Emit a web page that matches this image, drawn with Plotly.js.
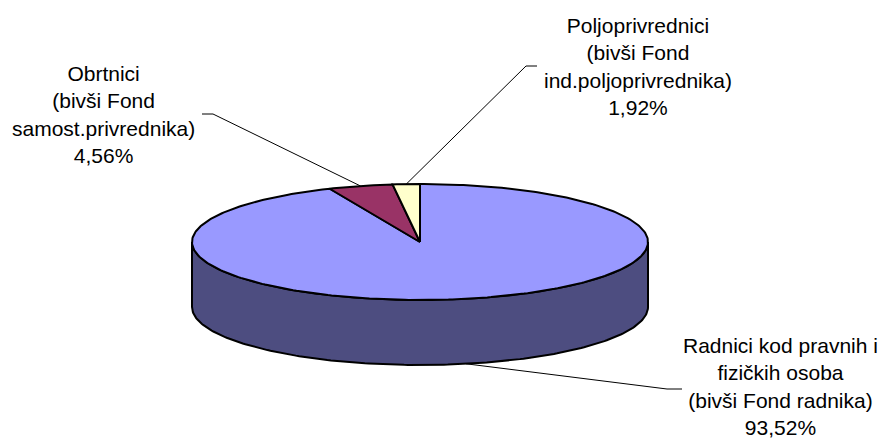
<!DOCTYPE html>
<html>
<head>
<meta charset="utf-8">
<script src="https://cdn.plot.ly/plotly-3.0.1.min.js"></script>
<style>
  html, body { margin: 0; padding: 0; background: #ffffff; }
  #chart { width: 885px; height: 439px; }
</style>
</head>
<body>
<div id="chart"></div>
<script>
// ---- data ----
const categories = [
  'Radnici kod pravnih i fizičkih osoba (bivši Fond radnika)',
  'Obrtnici (bivši Fond samost.privrednika)',
  'Poljoprivrednici (bivši Fond ind.poljoprivrednika)'
];
const labelLines = [
  ['Radnici kod pravnih i', 'fizičkih osoba', '(bivši Fond radnika)'],
  ['Obrtnici', '(bivši Fond', 'samost.privrednika)'],
  ['Poljoprivrednici', '(bivši Fond', 'ind.poljoprivrednika)']
];
const values = [93.52, 4.56, 1.92];
const percentLabels = ['93,52%', '4,56%', '1,92%'];

// ---- styles / layout geometry ----
const topColors  = ['#9999ff', '#993366', '#ffffcc'];
const sideColors = ['#4d4d80', '#4d1a33', '#80806a'];
const geo = { cx: 420, cy: 242, rx: 228, ry: 58, depth: 65 };
// label block centres and leader-line elbows (page pixels)
const labelPos = [
  { x: 780, y: 386, elbow: [[682, 389], [667, 389]], bottom: true },
  { x: 103, y: 114, elbow: [[202, 114], [213, 114]], bottom: false },
  { x: 638, y: 66,  elbow: [[537, 66],  [526, 66]],  bottom: false }
];
const FONT = 'Liberation Sans, Arial, sans-serif';

function pt(deg, dz) {
  const t = deg * Math.PI / 180;
  return [geo.cx + geo.rx * Math.sin(t), geo.cy - geo.ry * Math.cos(t) + dz];
}
function arc(a0, a1, dz) {
  const pts = [];
  const n = Math.max(2, Math.ceil(Math.abs(a1 - a0)));
  for (let i = 0; i <= n; i++) pts.push(pt(a0 + (a1 - a0) * i / n, dz));
  return pts;
}

const total = values.reduce((a, b) => a + b, 0);
let acc = 0;
const slices = values.map(v => {
  const a0 = acc / total * 360;
  acc += v;
  const a1 = acc / total * 360;
  return { a0, a1, mid: (a0 + a1) / 2 };
});

const traces = [];
// side walls (front half: 90..270 deg)
slices.forEach((s, i) => {
  const lo = Math.max(s.a0, 90), hi = Math.min(s.a1, 270);
  if (hi <= lo) return;
  const pts = arc(lo, hi, 0).concat(arc(hi, lo, geo.depth));
  pts.push(pts[0]);
  traces.push({
    type: 'scatter', mode: 'lines', fill: 'toself',
    x: pts.map(p => p[0]), y: pts.map(p => p[1]),
    fillcolor: sideColors[i], line: { color: '#000', width: 2 },
    hoverinfo: 'skip', showlegend: false
  });
});
// top faces
slices.forEach((s, i) => {
  const c = [geo.cx, geo.cy];
  const pts = [c].concat(arc(s.a0, s.a1, 0)).concat([c]);
  traces.push({
    type: 'scatter', mode: 'lines', fill: 'toself',
    x: pts.map(p => p[0]), y: pts.map(p => p[1]),
    fillcolor: topColors[i], line: { color: '#000', width: 2 },
    name: categories[i], hoverinfo: 'skip', showlegend: false
  });
});
// leader lines
slices.forEach((s, i) => {
  const lp = labelPos[i];
  const end = pt(s.mid, lp.bottom ? geo.depth : 0);
  const pts = lp.elbow.concat([end]);
  traces.push({
    type: 'scatter', mode: 'lines',
    x: pts.map(p => p[0]), y: pts.map(p => p[1]),
    line: { color: '#000', width: 1 },
    hoverinfo: 'skip', showlegend: false
  });
});

const annotations = slices.map((s, i) => ({
  x: labelPos[i].x, y: labelPos[i].y, xref: 'x', yref: 'y',
  xanchor: 'center', yanchor: 'middle', showarrow: false, align: 'center',
  text: labelLines[i].concat([percentLabels[i]]).join('<br>'),
  font: { family: FONT, size: 21, color: '#000' }
}));

const layout = {
  width: 885, height: 439,
  margin: { l: 0, r: 0, t: 0, b: 0, pad: 0 },
  paper_bgcolor: '#ffffff', plot_bgcolor: '#ffffff',
  xaxis: { range: [0, 885], visible: false, fixedrange: true },
  yaxis: { range: [439, 0], visible: false, fixedrange: true },
  annotations: annotations,
  showlegend: false
};

Plotly.newPlot('chart', traces, layout, { staticPlot: true, displayModeBar: false });
</script>
</body>
</html>
